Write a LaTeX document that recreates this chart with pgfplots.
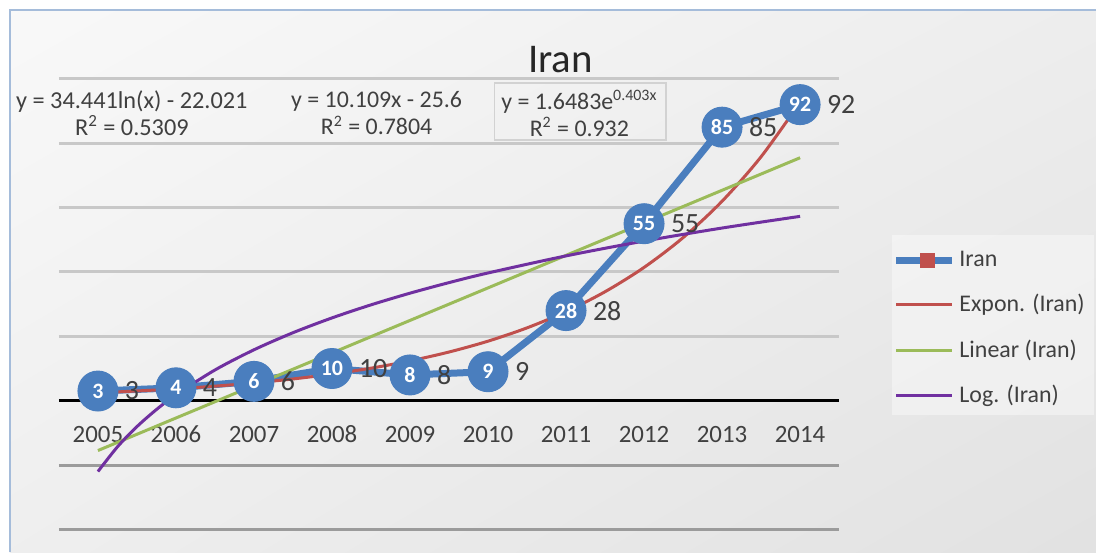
\documentclass[border=0pt]{standalone}
\usepackage{pgfplots}
\pgfplotsset{compat=1.18}
\usepackage{pgfplotstable}
\usetikzlibrary{shadings}
\usepackage{fontspec}
\setmainfont{Carlito}
\definecolor{iranblue}{RGB}{74,126,190}
\definecolor{exred}{RGB}{192,80,77}
\definecolor{lingreen}{RGB}{155,187,89}
\definecolor{logpurple}{RGB}{112,48,160}
\definecolor{txt}{RGB}{64,64,64}
\definecolor{gridc}{RGB}{200,200,200}
\definecolor{gridd}{RGB}{155,155,155}
\definecolor{bordc}{RGB}{165,188,218}

\pgfplotstableread{
x y
1 3
2 4
3 6
4 10
5 8
6 9
7 28
8 55
9 85
10 92
}\iran

\pgfplotstableread{
x y
1 2.466
1.5 3.017
2 3.690
2.5 4.514
3 5.522
3.5 6.754
4 8.263
4.5 10.108
5 12.364
5.5 15.125
6 18.499
6.5 22.630
7 27.680
7.5 33.859
8 41.420
8.5 50.667
9 61.982
9.5 75.81
10 92.735
}\expon

\pgfplotstableread{
x y
1 -15.491
10 75.49
}\linear

\pgfplotstableread{
x y
1 -22.021
1.25 -14.336
1.5 -8.056
1.75 -2.747
2 1.852
2.5 9.537
3 15.816
3.5 21.125
4 25.724
4.5 29.781
5 33.410
5.5 36.692
6 39.689
7 44.998
8 49.597
9 53.654
10 57.282
}\logt

\begin{document}
\begin{tikzpicture}[x=0.5bp,y=0.5bp]
\fill[white] (0,0) rectangle (1097,553);
\shade[upper left=gray!5, upper right=gray!14, lower left=gray!13, lower right=gray!23] (10,0) rectangle (1097,543);
\draw[bordc, line width=1.2bp] (10,0) -- (10,543) -- (1097,543);
% legend background
\fill[white, opacity=0.4] (893,138) rectangle (1095,318);
% equation box
\draw[gray!35, line width=0.8bp] (495,413) rectangle (667,470);

\begin{axis}[
  at={(29.5bp,11.5bp)}, anchor=south west,
  width=390.5bp, height=225.5bp, scale only axis,
  xmin=0.5, xmax=10.5, ymin=-40, ymax=100,
  axis x line=middle, axis y line=left,
  x axis line style={-, black, line width=1.5bp},
  y axis line style={draw=none},
  /pgf/number format/assume math mode=true,
  ytick={0,20,...,100}, yticklabels={},
  extra y ticks={-40,-20}, extra y tick labels={},
  extra y tick style={grid style={gridd, line width=1.5bp}},
  ymajorgrids, grid style={gridc, line width=1.5bp},
  xtick={1,...,10},
  xticklabels={2005,2006,2007,2008,2009,2010,2011,2012,2013,2014},
  major tick length=0pt,
  xticklabel style={font=\fontsize{12.5}{15}\selectfont, text=txt, yshift=-9bp, text height=8.5bp, text depth=0pt},
  clip=false,
  legend style={at={(1.068,0.654)}, anchor=north west, draw=none, fill=none,
    font=\fontsize{12}{14}\selectfont, text=txt, row sep=8.5bp, inner xsep=0bp, inner ysep=6bp},
  legend cell align=left,
]
\addplot[forget plot, iranblue, line width=3.5bp, mark=*, mark size=10bp,
  mark options={fill=iranblue, draw=iranblue, line width=0.5bp}] table[x=x,y=y]{\iran};
\addplot[forget plot, draw=none, mark=none, nodes near coords,
  nodes near coords style={white, anchor=center, font=\bfseries\fontsize{11}{12}\selectfont}] table[x=x,y=y]{\iran};
\addplot[forget plot, exred, line width=1.5bp, smooth] table[x=x,y=y]{\expon};
\addplot[forget plot, lingreen, line width=1.5bp] table[x=x,y=y]{\linear};
\addplot[forget plot, logpurple, line width=1.5bp, smooth] table[x=x,y=y]{\logt};
\addplot[forget plot, draw=none, mark=none, nodes near coords,
  nodes near coords style={txt, anchor=west, xshift=10bp, font=\fontsize{14}{16}\selectfont}] table[x=x,y=y]{\iran};

\addlegendimage{legend image code/.code={
  \draw[iranblue, line width=3.5bp] (0bp,0bp) -- (28bp,0bp);
  \fill[exred] (12bp,-3.5bp) rectangle (19bp,3.5bp);}}
\addlegendentry{Iran}
\addlegendimage{legend image code/.code={\draw[exred, line width=1.5bp] (0bp,0bp) -- (28bp,0bp);}}
\addlegendentry{Expon. (Iran)}
\addlegendimage{legend image code/.code={\draw[lingreen, line width=1.5bp] (0bp,0bp) -- (28bp,0bp);}}
\addlegendentry{Linear (Iran)}
\addlegendimage{legend image code/.code={\draw[logpurple, line width=1.5bp] (0bp,0bp) -- (28bp,0bp);}}
\addlegendentry{Log. (Iran)}
\end{axis}

\node[text=black!85, font=\fontsize{20.5}{24}\selectfont] at (561,493) {Iran};
\node[text=txt, font=\fontsize{12.2}{13.5}\selectfont, align=center] at (132,439.5)
  {y = 34.441ln(x) - 22.021\\R\textsuperscript{2} = 0.5309};
\node[text=txt, font=\fontsize{12}{13.5}\selectfont, align=center] at (377,439.5)
  {y = 10.109x - 25.6\\R\textsuperscript{2} = 0.7804};
\node[text=txt, font=\fontsize{12}{13.5}\selectfont, align=center] at (580,439.5)
  {y = 1.6483e\textsuperscript{0.403x}\\R\textsuperscript{2} = 0.932};
\end{tikzpicture}
\end{document}
